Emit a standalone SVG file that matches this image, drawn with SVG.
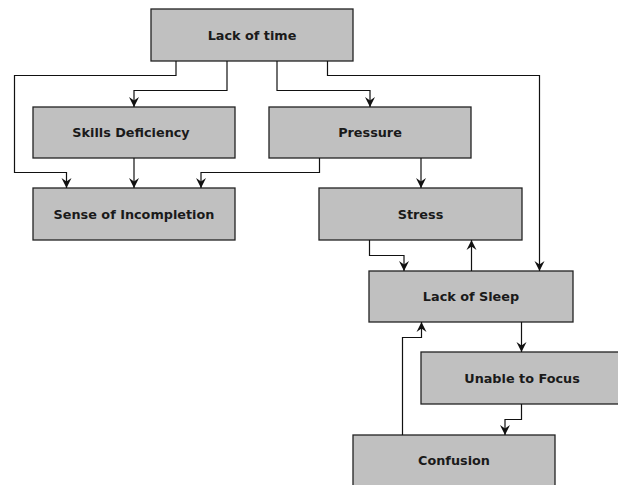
<svg xmlns="http://www.w3.org/2000/svg" width="618" height="485" viewBox="0 0 618 485">
<style>
.box{fill:#c0c0c0;stroke:#222;stroke-width:1.3}
.lbl{font-family:"DejaVu Sans",Verdana,sans-serif;font-weight:bold;font-size:12.8px;fill:#1a1a1a;text-anchor:middle}
.edge{fill:none;stroke:#111;stroke-width:1.2;marker-end:url(#arr)}
</style>
<defs>
<marker id="arr" markerUnits="userSpaceOnUse" markerWidth="12" markerHeight="12" viewBox="0 0 12 12" refX="10" refY="6" orient="auto">
<path d="M0,1 L10,6 L0,11 L3.5,6 z" fill="#111"/>
</marker>
</defs>
<rect width="618" height="485" fill="#fff"/>
<g id="n1"><rect class="box" x="151" y="9" width="202" height="52"/><text class="lbl" x="252" y="39.5">Lack of time</text></g>
<g id="n2"><rect class="box" x="33" y="107" width="202" height="51"/><text class="lbl" x="131" y="137">Skills Deficiency</text></g>
<g id="n3"><rect class="box" x="269" y="107" width="202" height="51"/><text class="lbl" x="370" y="137">Pressure</text></g>
<g id="n4"><rect class="box" x="33" y="188" width="202" height="52"/><text class="lbl" x="134" y="218.5">Sense of Incompletion</text></g>
<g id="n5"><rect class="box" x="319" y="188" width="203" height="52"/><text class="lbl" x="420.5" y="218.5">Stress</text></g>
<g id="n6"><rect class="box" x="369" y="271" width="204" height="51"/><text class="lbl" x="471" y="301">Lack of Sleep</text></g>
<g id="n7"><rect class="box" x="421" y="352" width="202" height="52"/><text class="lbl" x="522" y="382.5">Unable to Focus</text></g>
<g id="n8"><rect class="box" x="353" y="435" width="202" height="55"/><text class="lbl" x="454" y="465">Confusion</text></g>
<g id="edges">
<path class="edge" d="M176,61 V75.5 H14.5 V172.5 H66.5 V188"/>
<path class="edge" d="M227,61 V90.5 H134 V107"/>
<path class="edge" d="M277,61 V90.5 H370 V107"/>
<path class="edge" d="M327.5,61 V75.5 H539.5 V271"/>
<path class="edge" d="M134,158 V188"/>
<path class="edge" d="M319.5,158 V172.5 H201 V188"/>
<path class="edge" d="M421,158 V188"/>
<path class="edge" d="M369.5,240 V255.5 H404 V271"/>
<path class="edge" d="M471.5,271 V240"/>
<path class="edge" d="M521.5,322 V352"/>
<path class="edge" d="M521.5,404 V419.5 H505 V435"/>
<path class="edge" d="M402.5,435 V337.5 H421.5 V322"/>
</g>
</svg>
